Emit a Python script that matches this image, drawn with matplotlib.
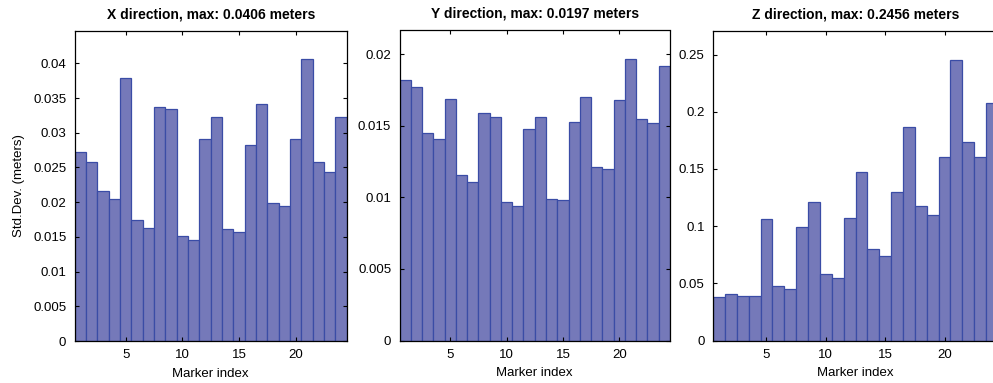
import numpy as np
import matplotlib
matplotlib.use("Agg")
import matplotlib.pyplot as plt
from matplotlib.ticker import FormatStrFormatter, MultipleLocator

# std. dev. per marker (meters)
markers = np.arange(1, 25)
std_x = [0.0272, 0.0258, 0.0216, 0.0205, 0.0379, 0.0174, 0.0163, 0.0337,
         0.0334, 0.0151, 0.0145, 0.0291, 0.0322, 0.0161, 0.0157, 0.0282,
         0.0342, 0.0199, 0.0195, 0.0291, 0.0406, 0.0258, 0.0243, 0.0322]
std_y = [0.0182, 0.0177, 0.0145, 0.0141, 0.0169, 0.0116, 0.0111, 0.0159,
         0.0156, 0.0097, 0.0094, 0.0148, 0.0156, 0.0099, 0.0098, 0.0153,
         0.0170, 0.0121, 0.0120, 0.0168, 0.0197, 0.0155, 0.0152, 0.0192]
std_z = [0.0384, 0.0408, 0.0393, 0.0393, 0.1060, 0.0478, 0.0454, 0.0990,
         0.1211, 0.0582, 0.0550, 0.1071, 0.1477, 0.0802, 0.0741, 0.1294,
         0.1865, 0.1177, 0.1096, 0.1608, 0.2456, 0.1737, 0.1600, 0.2075]

names = ["X", "Y", "Z"]
ystep = [0.005, 0.005, 0.05]

plt.rcParams['font.family'] = ['Liberation Sans', 'DejaVu Sans']

W, H = 993, 383
fig = plt.figure(figsize=(W / 100, H / 100), dpi=100)

# axes boxes in pixels: left, right, top, bottom
boxes = [(74.7, 346.7, 31, 341), (399.5, 670, 30.5, 340.5), (713, 998, 31.5, 340.5)]

for i, data in enumerate([std_x, std_y, std_z]):
    l, r, t, b = boxes[i]
    ax = fig.add_axes([l / W, 1 - b / H, (r - l) / W, (b - t) / H])
    ax.bar(markers, data, width=1.0, color='#7579B9', edgecolor='#3A4CA6',
           linewidth=0.9)
    ax.set_xlim(0.5, 24.5)
    ax.set_ylim(0, max(data) * 1.1)
    ax.xaxis.set_major_locator(MultipleLocator(5))
    ax.yaxis.set_major_locator(MultipleLocator(ystep[i]))
    ax.yaxis.set_major_formatter(FormatStrFormatter('%g'))
    ax.tick_params(direction='in', length=3, top=True, right=True,
                   labelsize=9.5, width=0.8, pad=6)
    for s in ax.spines.values():
        s.set_linewidth(0.9)
    ax.set_title("%s direction, max: %.4f meters" % (names[i], max(data)),
                 fontsize=10, fontweight='bold', pad=9)
    ax.set_xlabel("Marker index", fontsize=9.5, labelpad=4.5)
    if i == 0:
        ax.set_ylabel("Std.Dev. (meters)", fontsize=9.5, labelpad=5.5)

fig.savefig("out.png", dpi=100)
